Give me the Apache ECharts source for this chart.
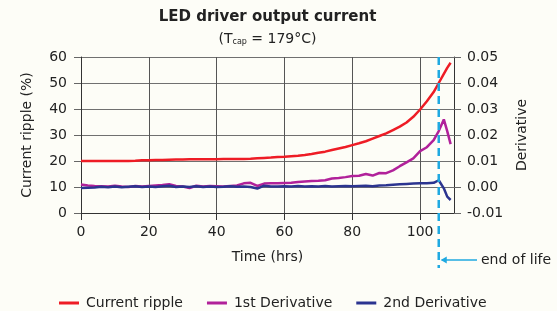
<!DOCTYPE html>
<html>
<head>
<meta charset="utf-8">
<script src="https://cdn.jsdelivr.net/npm/echarts@6/dist/echarts.min.js"></script>
<style>
  html, body { margin: 0; padding: 0; background: #fdfdf7; }
  #chart { width: 557px; height: 311px; }
</style>
</head>
<body>
<div id="chart"></div>
<script>
// time axis (hrs)
const hours = [0, 2, 4, 6, 8, 10, 12, 14, 16, 18, 20, 22, 24, 26, 28, 30, 32, 34, 36, 38,
  40, 42, 44, 46, 48, 50, 52, 54, 56, 58, 60, 62, 64, 66, 68, 70, 72, 74, 76, 78,
  80, 82, 84, 86, 88, 90, 92, 94, 96, 98, 100, 102, 104, 105.5, 107, 108, 109];

// current ripple (%) - left axis
const currentRipple = [20, 20, 20, 20, 20, 20, 20, 20, 20.1, 20.3, 20.3, 20.4, 20.4, 20.5, 20.6, 20.6, 20.7, 20.7, 20.7, 20.7,
  20.7, 20.8, 20.8, 20.8, 20.8, 20.9, 21.1, 21.2, 21.3, 21.5, 21.6, 21.8, 22.0, 22.3, 22.7, 23.2, 23.6, 24.2, 24.8, 25.4,
  26.1, 26.8, 27.6, 28.6, 29.6, 30.6, 31.9, 33.2, 34.8, 37.0, 39.8, 43.0, 46.5, 50.0, 53.5, 55.8, 57.8];

// derivatives - right axis
const firstDerivative = [0.0010, 0.0006, 0.0004, 0.0003, 0.0002, 0.0005, 0.0002, 0.0000, 0.0004, 0.0002,
  0.0004, 0.0006, 0.0008, 0.0011, 0.0004, 0.0002, -0.0004, 0.0005, 0.0002, 0.0004,
  0.0003, 0.0002, 0.0004, 0.0006, 0.0014, 0.0016, 0.0004, 0.0013, 0.0014, 0.0014,
  0.0015, 0.0016, 0.0019, 0.0021, 0.0023, 0.0024, 0.0026, 0.0033, 0.0035, 0.0038,
  0.0042, 0.0043, 0.0050, 0.0044, 0.0054, 0.0053, 0.0064, 0.0080, 0.0095, 0.0110,
  0.0138, 0.0153, 0.0180, 0.0215, 0.0260, 0.0215, 0.0165];
const secondDerivative = [-0.0004, -0.0003, -0.0002, 0.0001, -0.0001, 0.0002, -0.0001, 0.0001, 0.0003, 0.0000,
  0.0002, 0.0000, 0.0003, 0.0005, 0.0000, 0.0002, 0.0000, 0.0003, 0.0000, 0.0002,
  0.0000, 0.0001, 0.0003, 0.0001, 0.0002, 0.0000, -0.0006, 0.0005, 0.0002, 0.0002,
  0.0003, 0.0002, 0.0004, 0.0002, 0.0003, 0.0002, 0.0004, 0.0002, 0.0003, 0.0004,
  0.0003, 0.0004, 0.0005, 0.0003, 0.0006, 0.0007, 0.0009, 0.0011, 0.0012, 0.0013,
  0.0014, 0.0014, 0.0016, 0.0026, -0.0005, -0.0037, -0.0050];

const endOfLife = 105.5;

const font = 'DejaVu Sans';
const ink = '#222';

function pairs(ys) {
  return hours.map((h, i) => [h, ys[i]]);
}

let chartDom = document.getElementById('chart');
let myChart = echarts.init(chartDom);

let option = {
  backgroundColor: '#fdfdf7',
  animation: false,
  textStyle: { fontFamily: font, color: ink },
  grid: { left: 81, right: 103, top: 57, bottom: 98 },
  legend: {
    left: 54,
    top: 291,
    itemWidth: 20,
    itemHeight: 3,
    itemGap: 24,
    icon: 'rect',
    textStyle: { fontFamily: font, fontSize: 14, color: ink, padding: [0, 0, 0, 2] },
    data: ['Current ripple', '1st Derivative', '2nd Derivative']
  },
  xAxis: {
    type: 'value',
    min: 0,
    max: 110,
    interval: 20,
    name: 'Time (hrs)',
    nameLocation: 'middle',
    nameGap: 37,
    nameTextStyle: { fontFamily: font, fontSize: 14, color: ink },
    axisLine: { onZero: false, lineStyle: { color: '#333', width: 1 } },
    axisTick: { show: true, inside: false, length: 7, lineStyle: { color: '#333' } },
    axisLabel: { fontFamily: font, fontSize: 14, color: ink, margin: 12, showMaxLabel: false },
    splitLine: { show: true, lineStyle: { color: '#555', width: 1 } }
  },
  yAxis: [
    {
      type: 'value',
      min: 0,
      max: 60,
      interval: 10,
      name: 'Current ripple (%)',
      nameLocation: 'middle',
      nameGap: 47,
      nameRotate: 90,
      nameTextStyle: { fontFamily: font, fontSize: 14, color: ink },
      axisLine: { show: true, lineStyle: { color: '#333', width: 1 } },
      axisTick: { show: true, inside: false, length: 7, lineStyle: { color: '#666' } },
      axisLabel: { fontFamily: font, fontSize: 14, color: ink, margin: 14 },
      splitLine: { show: true, lineStyle: { color: '#707070', width: 1 } }
    },
    {
      type: 'value',
      position: 'right',
      min: -0.01,
      max: 0.05,
      interval: 0.01,
      name: 'Derivative',
      nameLocation: 'middle',
      nameGap: 61,
      nameRotate: 90,
      nameTextStyle: { fontFamily: font, fontSize: 14, color: ink },
      axisLine: { show: true, lineStyle: { color: '#333', width: 1 } },
      axisTick: { show: true, inside: false, length: 7, lineStyle: { color: '#666' } },
      axisLabel: {
        fontFamily: font, fontSize: 14, color: ink, margin: 13,
        formatter: function (v) { return v.toFixed(2); }
      },
      splitLine: { show: false }
    }
  ],
  series: [
    {
      name: 'Current ripple',
      type: 'line',
      yAxisIndex: 0,
      symbol: 'none',
      color: '#ee1c25',
      lineStyle: { width: 2.5 },
      data: pairs(currentRipple)
    },
    {
      name: '1st Derivative',
      type: 'line',
      yAxisIndex: 1,
      symbol: 'none',
      color: '#b1219a',
      lineStyle: { width: 2.5 },
      data: pairs(firstDerivative)
    },
    {
      name: '2nd Derivative',
      type: 'line',
      yAxisIndex: 1,
      symbol: 'none',
      color: '#2b3490',
      lineStyle: { width: 2.5 },
      data: pairs(secondDerivative)
    }
  ]
};
myChart.setOption(option);

// title, end-of-life marker placed through the chart's own scales
let xLeft = myChart.convertToPixel({ xAxisIndex: 0 }, 0);
let xRight = myChart.convertToPixel({ xAxisIndex: 0 }, 110);
let xEol = myChart.convertToPixel({ xAxisIndex: 0 }, endOfLife);
let yTop = myChart.convertToPixel({ yAxisIndex: 0 }, 60);
let midX = (xLeft + xRight) / 2;
let arrowY = 260;
let eolColor = '#1fa9e1';

myChart.setOption({
  graphic: [
    {
      type: 'text', x: midX, y: 17,
      style: { text: 'LED driver output current', fontFamily: font, fontSize: 15, fontWeight: 'bold',
        fill: ink, align: 'center', verticalAlign: 'middle' }
    },
    {
      type: 'text', x: midX, y: 39,
      style: {
        text: '(T{s|cap} = 179°C)', fontFamily: font, fontSize: 14, fill: ink,
        align: 'center', verticalAlign: 'middle',
        rich: { s: { fontFamily: font, fontSize: 8, fill: ink, verticalAlign: 'bottom', padding: [6, 0, 0, 0] } }
      }
    },
    {
      type: 'line', z: 10,
      shape: { x1: xEol, y1: yTop, x2: xEol, y2: 268 },
      style: { stroke: eolColor, lineWidth: 2.5, lineDash: [8, 5] }
    },
    {
      type: 'line', z: 10,
      shape: { x1: xEol + 3, y1: arrowY, x2: 477, y2: arrowY },
      style: { stroke: eolColor, lineWidth: 1.5 }
    },
    {
      type: 'polygon', z: 10,
      shape: { points: [[xEol + 2, arrowY], [xEol + 8, arrowY - 3.5], [xEol + 8, arrowY + 3.5]] },
      style: { fill: eolColor }
    },
    {
      type: 'text', x: 481, y: arrowY,
      style: { text: 'end of life', fontFamily: font, fontSize: 14, fill: ink, verticalAlign: 'middle' }
    }
  ]
});
</script>
</body>
</html>
